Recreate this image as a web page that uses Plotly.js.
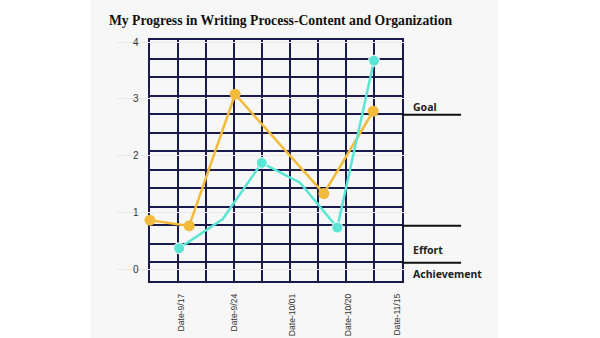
<!DOCTYPE html>
<html><head><meta charset="utf-8">
<script src="https://cdn.plot.ly/plotly-3.0.1.min.js"></script>
<style>html,body{margin:0;padding:0;background:#fff;width:600px;height:338px;overflow:hidden}
#chart{position:absolute;left:91px;top:0;width:407px;height:338px}</style>
</head><body><div id="chart"></div>
<script>
// x positions are measured in grid columns (0 = left edge of the drawn grid)
const tickPositions = [1.11, 3.0, 5.07, 7.09, 8.82];
const tickLabels = ['Date-9/17', 'Date-9/24', 'Date-10/01', 'Date-10/20', 'Date-11/15'];
const orangeX = [0, 1.40, 3.04, 6.21, 7.97];
const orangeY = [0.86, 0.76, 3.08, 1.33, 2.78];
const cyanX = [1.04, 2.60, 3.99, 5.36, 6.69, 8.0];
const cyanY = [0.365, 0.88, 1.87, 1.52, 0.73, 3.67];
const cyanMarked = [true, false, true, false, true, true];
const refNames = ['Goal', 'Effort', 'Achievement'];
const refLevels = [2.72, 0.76, 0.11];
const yTicks = [0, 1, 2, 3, 4];
const gridCols = 9;
const gridRows = 13;

const ORANGE = '#f2bb3c';
const CYAN = '#5ae5d4';
const NAVY = '#1b1a4c';
const refLabelShift = [8, -24, -11];

const traces = [
  // invisible trace that spans the background grid subplot so that its axes are drawn
  {x: [0, gridCols], y: [0, gridRows], xaxis: 'x', yaxis: 'y', type: 'scatter', mode: 'none',
   showlegend: false, hoverinfo: 'skip'},
  {x: orangeX, y: orangeY, xaxis: 'x2', yaxis: 'y2', type: 'scatter', mode: 'lines+markers', name: 'Series 1',
   line: {color: ORANGE, width: 2.5}, marker: {color: ORANGE, size: 11, opacity: 1}, cliponaxis: false},
  {x: cyanX, y: cyanY, xaxis: 'x2', yaxis: 'y2', type: 'scatter', mode: 'lines+markers', name: 'Series 2',
   line: {color: CYAN, width: 2.5}, marker: {color: CYAN, opacity: 1, size: cyanMarked.map(m => m ? 11 : 0)}, cliponaxis: false}
];

const shapes = refLevels.map(v => ({type: 'line', xref: 'paper', yref: 'y2', x0: 0.986, x1: 1.19, y0: v, y1: v,
  line: {color: '#111', width: 2}}));
const annotations = refNames.map((n, i) => ({text: '<b>' + n + '</b>', xref: 'paper', yref: 'y2', x: 1.017, y: refLevels[i],
  xanchor: 'left', yanchor: 'middle', yshift: refLabelShift[i], showarrow: false,
  font: {family: 'Noto Sans', size: 10.5, color: '#222'}}));

const layout = {
  width: 407, height: 338,
  paper_bgcolor: '#f7f7f7', plot_bgcolor: 'rgba(0,0,0,0)',
  margin: {l: 25, r: 92, t: 36, b: 53},
  showlegend: false,
  title: {text: 'My Progress in Writing Process-Content and Organization', xref: 'container', yref: 'container',
    x: 0.044, xanchor: 'left', y: 1 - 20 / 338, yanchor: 'middle',
    font: {family: 'Liberation Serif', size: 13.7, color: '#111', weight: 'bold'}},
  // grid axes (background grid drawn by the library's gridlines)
  xaxis: {domain: [0.1172, 0.9862], anchor: 'y', range: [0, gridCols], tickmode: 'array',
    tickvals: Array.from({length: gridCols + 1}, (_, i) => i), showticklabels: false, showgrid: true,
    gridcolor: NAVY, gridwidth: 2, zeroline: false, showline: true, mirror: true, linecolor: NAVY, linewidth: 2, ticks: ''},
  yaxis: {domain: [0.0161, 0.9839], anchor: 'x', range: [0, gridRows], tickmode: 'array',
    tickvals: Array.from({length: gridRows + 1}, (_, i) => i), showticklabels: false, showgrid: true,
    gridcolor: NAVY, gridwidth: 2, zeroline: false, showline: true, mirror: true, linecolor: NAVY, linewidth: 2, ticks: ''},
  // data axes
  xaxis2: {domain: [0, 1], anchor: 'y2', range: [-1.214, 9.143], tickmode: 'array', tickvals: tickPositions, ticktext: tickLabels,
    tickangle: -90, showgrid: false, zeroline: false, showline: false, ticks: '', ticklabelstandoff: 6,
    tickfont: {family: 'Liberation Sans', size: 8.6, color: '#333'}},
  yaxis2: {domain: [0, 1], anchor: 'x2', range: [-0.282, 4.106], tickmode: 'array', tickvals: yTicks, showgrid: true,
    gridcolor: '#e9e9e9', gridwidth: 1, zeroline: false, showline: false, ticks: '', ticklabelposition: 'inside',
    ticklabelstandoff: 14, tickfont: {family: 'Liberation Sans', size: 10, color: '#333'}},
  shapes: shapes,
  annotations: annotations
};
Plotly.newPlot('chart', traces, layout, {displayModeBar: false, staticPlot: true});
</script></body></html>
